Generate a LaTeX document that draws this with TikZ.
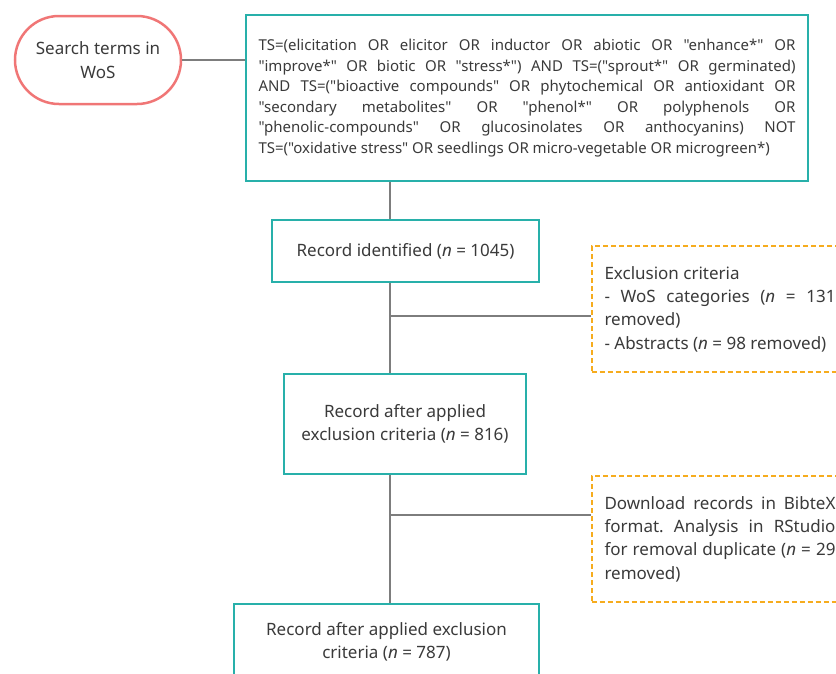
\documentclass[tikz,border=0pt]{standalone}
\usepackage{fontspec}
\setmainfont{Noto Sans}[Ligatures=TeXOff]
\definecolor{boxteal}{RGB}{40,176,170}
\definecolor{pillred}{RGB}{240,118,118}
\definecolor{dashorange}{RGB}{246,172,30}
\definecolor{linkgray}{RGB}{125,125,125}
\definecolor{txtgray}{RGB}{58,58,58}
\frenchspacing
\begin{document}
\begin{tikzpicture}[x=1pt,y=-1pt,
        every node/.style={text=txtgray,font=\fontsize{17}{23.3}\selectfont},
        recbox/.style={draw=boxteal,line width=2.2pt,align=center,inner sep=0pt},
        notebox/.style={draw=dashorange,line width=2pt,dash pattern=on 5pt off 3pt,
            text width=231pt,align=justify,inner xsep=13pt,minimum height=126pt},
        link/.style={draw=linkgray,line width=2pt}]
    \useasboundingbox (0,0) rectangle (836,673);
    \clip (0,0) rectangle (836,673);

    \node[draw=pillred,line width=2.5pt,rounded corners=44pt,minimum width=166pt,
        minimum height=88pt,align=center] (pill) at (98,60) {Search terms in\\WoS};
    \node[recbox,text width=537pt,inner xsep=12.5pt,minimum height=166pt,align=justify,
        font=\fontsize{15}{20.6}\selectfont] (query) at (527,98)
        {TS=(elicitation OR elicitor OR inductor OR abiotic OR "enhance*" OR\linebreak
        "improve*" OR biotic OR "stress*") AND TS=("sprout*" OR germinated)\linebreak
        AND TS=("bioactive compounds" OR phytochemical OR antioxidant OR\linebreak
        "secondary metabolites" OR "phenol*" OR polyphenols OR\linebreak
        "phenolic-compounds" OR glucosinolates OR anthocyanins) NOT\linebreak
        TS=("oxidative stress" OR seedlings OR micro-vegetable OR microgreen*)};

    \node[recbox,minimum width=267pt,minimum height=62pt] (found) at (405.5,251)
        {Record identified (\textit{n} = 1045)};
    \node[recbox,minimum width=242pt,minimum height=100pt] (kept) at (405,424)
        {Record after applied\\exclusion criteria (\textit{n} = 816)};
    \node[recbox,minimum width=305pt,minimum height=76pt] (final) at (386.5,642)
        {Record after applied exclusion\\criteria (\textit{n} = 787)};

    \node[notebox] (excl) at (720,309)
        {Exclusion criteria\\
        - WoS categories (\textit{n} = 131\linebreak removed)\\
        - Abstracts (\textit{n} = 98 removed)};
    \node[notebox] (dupl) at (720,539)
        {Download records in BibteX\linebreak format. Analysis in RStudio\linebreak
        for removal duplicate (\textit{n} = 29\linebreak removed)};

    \coordinate (trunk) at (390,0);
    \coordinate (fork1) at (390,316);
    \coordinate (fork2) at (390,515);

    \path[link] (pill.east) -- (pill.east -| query.west);
    \path[link] (query.south -| trunk) -- (found.north -| trunk);
    \path[link] (found.south -| trunk) -- (kept.north -| trunk);
    \path[link] (kept.south -| trunk) -- (final.north -| trunk);
    \path[link] (fork1) -- (fork1 -| excl.west);
    \path[link] (fork2) -- (fork2 -| dupl.west);
\end{tikzpicture}
\end{document}
